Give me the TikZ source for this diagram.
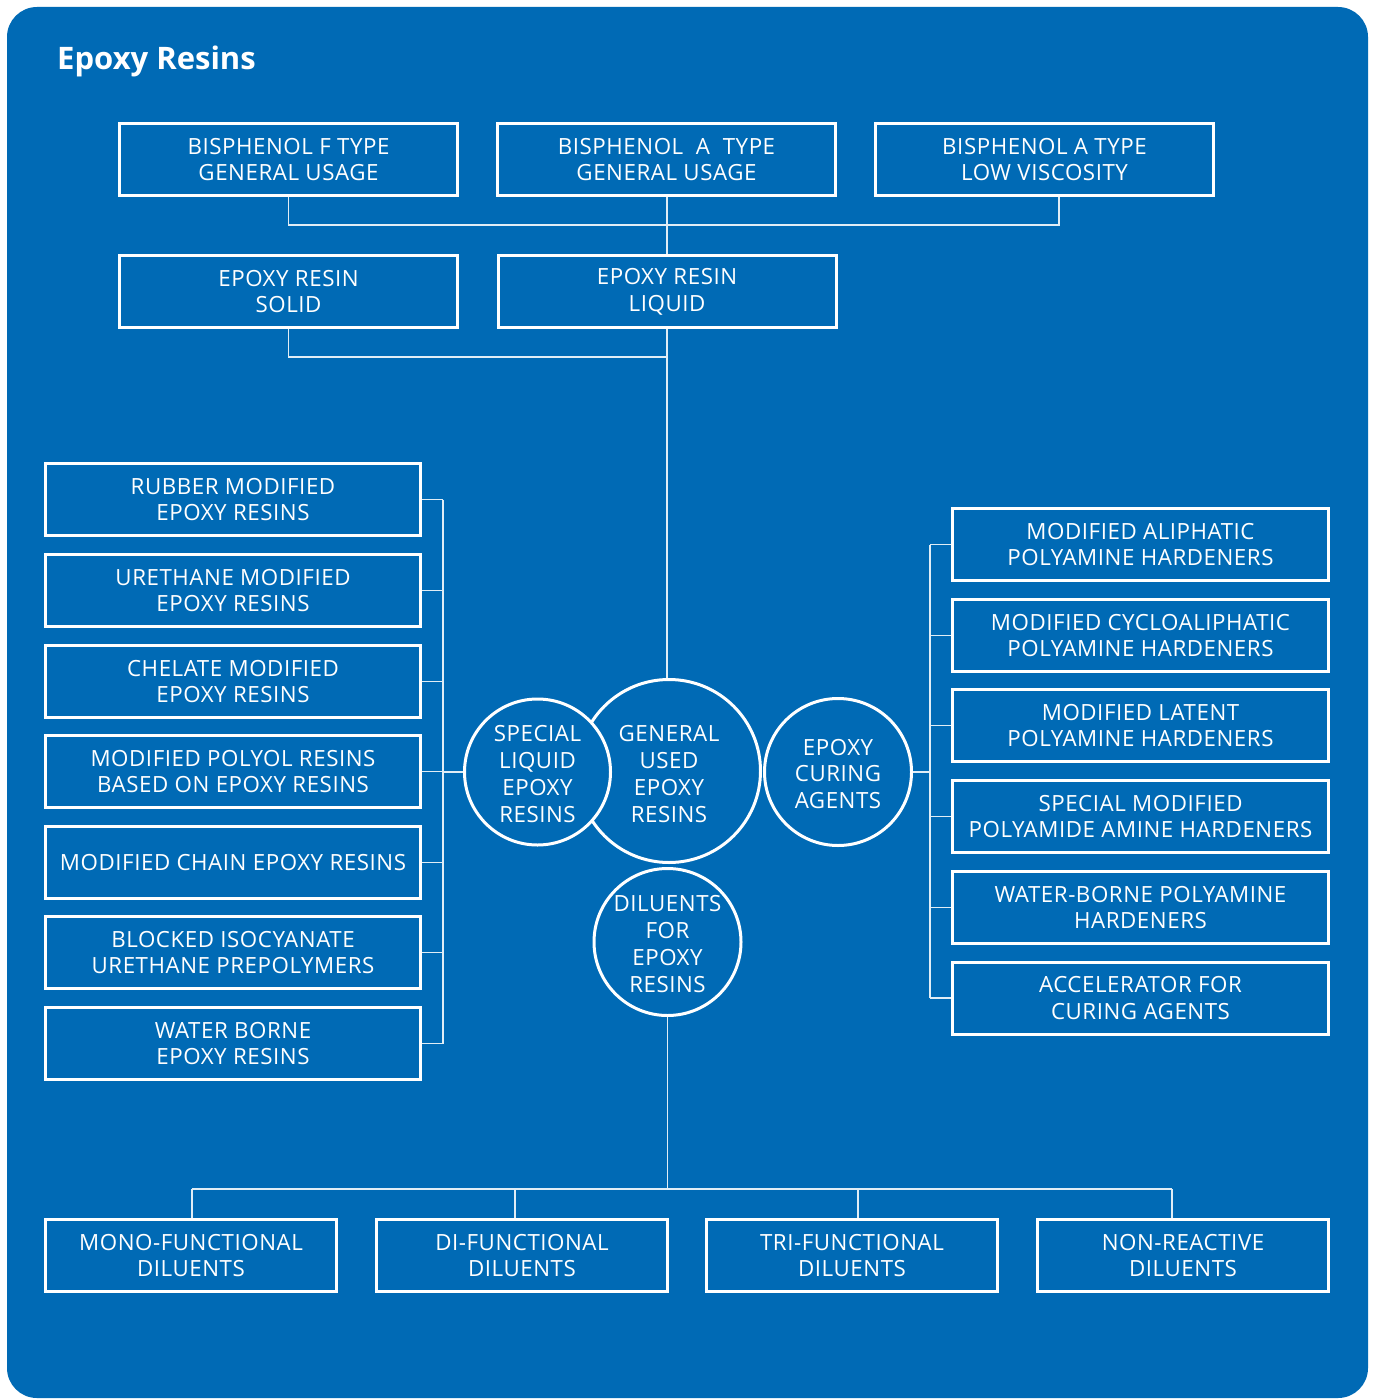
\documentclass[tikz,border=0pt]{standalone}
\usepackage{fontspec}
\setmainfont{Open Sans}
\newfontfamily\boxfam[LetterSpace=2.5]{Open Sans}
\definecolor{bg}{RGB}{0,106,181}
\tikzset{
  boxtext/.style={text=white, align=center, font=\boxfam\fontsize{22.3}{26.8}\selectfont},
  rbox/.style={boxtext, draw=white, line width=3pt, rectangle, inner sep=0pt, minimum height=72pt},
  rcirc/.style={draw=white, line width=3pt, circle, inner sep=0pt, fill=bg},
  conn/.style={draw=white!88!bg, line width=1.6pt}
}
\begin{document}
\begin{tikzpicture}[x=1pt,y=-1pt]
\useasboundingbox (0,0) rectangle (1375,1399);
\fill[white] (0,0) rectangle (1375,1399);
\fill[bg, rounded corners=30pt] (7,7) rectangle (1368,1398);

\node[anchor=base west, inner sep=0pt, text=white, font=\bfseries\fontsize{31}{37}\selectfont] (title) at (57,70) {Epoxy Resins};

% top row
\node[rbox, minimum width=338pt] (t1) at (288.5,159.5) {BISPHENOL F TYPE\\GENERAL USAGE};
\node[rbox, minimum width=338pt] (t2) at (666.5,159.5) {BISPHENOL\ \ A\ \ TYPE\\GENERAL USAGE};
\node[rbox, minimum width=338pt] (t3) at (1044.5,159.5) {BISPHENOL A TYPE\\LOW VISCOSITY};
% second row
\node[rbox, minimum width=338pt] (solid) at (288.5,291.5) {EPOXY RESIN\\SOLID};
\node[rbox, minimum width=338pt] (liquid) at (667,291.5) {EPOXY RESIN\\LIQUID};

% left column
\node[rbox, minimum width=375pt] (l1) at (233,499.5) {RUBBER MODIFIED\\EPOXY RESINS};
\node[rbox, minimum width=375pt] (l2) at (233,590.5) {URETHANE MODIFIED\\EPOXY RESINS};
\node[rbox, minimum width=375pt] (l3) at (233,681.5) {CHELATE MODIFIED\\EPOXY RESINS};
\node[rbox, minimum width=375pt] (l4) at (233,771.5) {MODIFIED POLYOL RESINS\\BASED ON EPOXY RESINS};
\node[rbox, minimum width=375pt] (l5) at (233,862.5) {MODIFIED CHAIN EPOXY RESINS};
\node[rbox, minimum width=375pt] (l6) at (233,952.5) {BLOCKED ISOCYANATE\\URETHANE PREPOLYMERS};
\node[rbox, minimum width=375pt] (l7) at (233,1043.5) {WATER BORNE\\EPOXY RESINS};

% right column
\node[rbox, minimum width=376pt] (r1) at (1140.5,544.5) {MODIFIED ALIPHATIC\\POLYAMINE HARDENERS};
\node[rbox, minimum width=376pt] (r2) at (1140.5,635.5) {MODIFIED CYCLOALIPHATIC\\POLYAMINE HARDENERS};
\node[rbox, minimum width=376pt] (r3) at (1140.5,725.5) {MODIFIED LATENT\\POLYAMINE HARDENERS};
\node[rbox, minimum width=376pt] (r4) at (1140.5,816.5) {SPECIAL MODIFIED\\POLYAMIDE AMINE HARDENERS};
\node[rbox, minimum width=376pt] (r5) at (1140.5,907.5) {WATER-BORNE POLYAMINE\\HARDENERS};
\node[rbox, minimum width=376pt] (r6) at (1140.5,998) {ACCELERATOR FOR\\CURING AGENTS};

% bottom row
\node[rbox, minimum width=291pt] (b1) at (191,1255.5) {MONO-FUNCTIONAL\\DILUENTS};
\node[rbox, minimum width=291pt] (b2) at (522,1255.5) {DI-FUNCTIONAL\\DILUENTS};
\node[rbox, minimum width=291pt] (b3) at (852,1255.5) {TRI-FUNCTIONAL\\DILUENTS};
\node[rbox, minimum width=291pt] (b4) at (1183,1255.5) {NON-REACTIVE\\DILUENTS};

% junction coordinates
\coordinate (j1) at (667,225);
\coordinate (x3) at (1059,0);
\coordinate (j2) at (667,357);
\coordinate (lbus) at (443,0);
\coordinate (rbus) at (930,0);
\coordinate (d1) at (192,1189);
\coordinate (d2) at (515,1189);
\coordinate (d3) at (858,1189);
\coordinate (d4) at (1172,1189);

% circles
\path (669,771) coordinate (gc) (537.5,772) coordinate (sc) (838,772) coordinate (cc) (667.5,942) coordinate (dc);
\node[rcirc, minimum size=183pt, draw=none, fill=none] (general) at (gc) {};
\node[rcirc, minimum size=146pt, draw=none, fill=none] (special) at (sc) {};
\node[rcirc, minimum size=147pt, draw=none, fill=none] (curing) at (cc) {};
\node[rcirc, minimum size=147pt, draw=none, fill=none] (diluents) at (dc) {};

% connectors top
\draw[conn] (t1.south) |- (j1) -| (t3.south -| x3);
\draw[conn] (t2.south -| liquid.north) -- (liquid.north);
\draw[conn] (solid.south) |- (j2);
\draw[conn] (liquid.south) -- (liquid.south |- general.north);

% left bus
\draw[conn] (l1.east -| lbus) -- (l7.east -| lbus);
\foreach \n in {l1,l2,l3,l4,l5,l6,l7} \draw[conn] (\n.east) -- (\n.east -| lbus);
\draw[conn] (special.west -| lbus) -- (special.west);

% right bus
\draw[conn] (r1.west -| rbus) -- (r6.west -| rbus);
\foreach \n in {r1,r2,r3,r4,r5,r6} \draw[conn] (\n.west) -- (\n.west -| rbus);
\draw[conn] (curing.east) -- (curing.east -| rbus);

% bottom
\draw[conn] (diluents.south) -- (diluents.south |- d1);
\draw[conn] (d1) -- (d4);
\draw[conn] (d1) -- (b1.north -| d1);
\draw[conn] (d2) -- (b2.north -| d2);
\draw[conn] (d3) -- (b3.north -| d3);
\draw[conn] (d4) -- (b4.north -| d4);

% visible circles
\node[rcirc, minimum size=183pt] (generalc) at (gc) {};
\node[boxtext] (generalt) at ([yshift=-3pt]gc) {GENERAL\\USED\\EPOXY\\RESINS};
\node[rcirc, minimum size=146pt] (specialc) at (sc) {};
\node[boxtext] (specialt) at ([yshift=-2pt]sc) {SPECIAL\\LIQUID\\EPOXY\\RESINS};
\node[rcirc, minimum size=147pt] (curingc) at (cc) {};
\node[boxtext] (curingt) at ([yshift=-2pt]cc) {EPOXY\\CURING\\AGENTS};
\node[rcirc, minimum size=147pt] (diluentsc) at (dc) {};
\node[boxtext] (diluentst) at ([yshift=-2pt]dc) {DILUENTS\\FOR\\EPOXY\\RESINS};
\end{tikzpicture}
\end{document}
